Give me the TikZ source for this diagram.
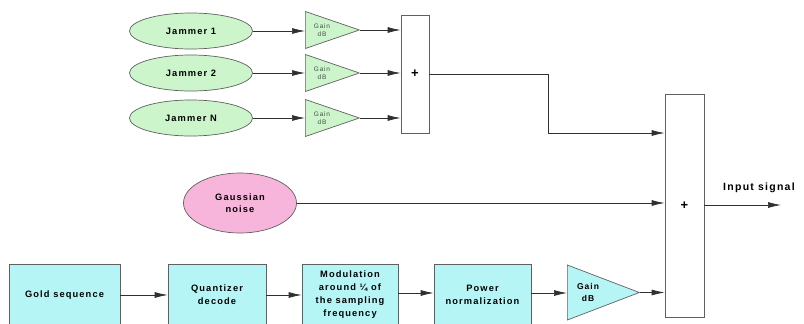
\documentclass[tikz,border=0pt]{standalone}
\usepackage{fontspec}
\setmainfont{Liberation Sans}[LetterSpace=12]
\usetikzlibrary{shapes.geometric,arrows.meta}
\definecolor{jamfill}{HTML}{CCF5CC}
\definecolor{noisefill}{HTML}{F7B5DC}
\definecolor{blockfill}{HTML}{B5F5F5}
\definecolor{edgegray}{HTML}{606060}
\definecolor{wirecol}{HTML}{303030}
\begin{document}
\begin{tikzpicture}[x=1pt,y=-1pt,
  jam/.style={ellipse, draw=edgegray, fill=jamfill, line width=0.7pt,
    minimum width=123pt, minimum height=36pt, inner sep=0pt,
    font=\bfseries\fontsize{9.3}{10}\selectfont},
  noise/.style={ellipse, draw=edgegray, fill=noisefill, line width=0.7pt,
    minimum width=113pt, minimum height=60pt, inner sep=0pt, align=center,
    font=\bfseries\fontsize{9.3}{12.5}\selectfont},
  amp/.style={isosceles triangle, isosceles triangle stretches,
    shape border rotate=0, draw=edgegray, line width=0.7pt, inner sep=0pt,
    anchor=west},
  % for this shape, width is the base and height the apex distance
  smallamp/.style={amp, fill=jamfill, minimum height=54pt, minimum width=37pt},
  bigamp/.style={amp, fill=blockfill, minimum height=72pt, minimum width=55pt},
  amplabel/.style={align=center, inner sep=0pt},
  block/.style={rectangle, draw=edgegray, fill=blockfill, line width=0.7pt,
    inner sep=0pt, align=center, minimum height=62pt,
    font=\bfseries\fontsize{9.3}{13}\selectfont},
  sumbox/.style={rectangle, draw=edgegray, fill=white, line width=0.7pt,
    inner sep=0pt, font=\bfseries\fontsize{13}{13}\selectfont},
  wire/.style={draw=wirecol, line width=0.7pt, -{Latex[length=13pt,width=6pt]}}
]
\useasboundingbox (0,0) rectangle (804,324);

% jammer sources
\node[jam] (j1) at (191,31) {Jammer 1};
\node[jam] (j2) at (191,73) {Jammer 2};
\node[jam] (jn) at (191,118) {Jammer N};

% jammer gain stages
\node[smallamp] (a1) at (305,30) {};
\node[smallamp] (a2) at (305,73) {};
\node[smallamp] (an) at (305,118) {};
\foreach \n in {a1,a2,an}
  \node[amplabel, text=black!70, font=\fontsize{6.5}{7.5}\selectfont]
    (\n t) at ([xshift=17pt]\n.west) {Gain\\dB};

% jammer summation
\node[sumbox, minimum width=28pt, minimum height=118pt] (s1) at (415,74) {+};

% gaussian noise source
\node[noise] (gn) at (240,203) {Gaussian\\noise};

% signal chain
\node[block, minimum width=111pt] (gold) at (64.5,295) {Gold sequence};
\node[block, minimum width=98pt] (quant) at (217,295) {Quantizer\\decode};
\node[block, minimum width=96pt] (mod) at (350,295) {Modulation\\around \textonequarter\ of\\the sampling\\frequency};
\node[block, minimum width=97pt] (pow) at (482.5,295) {Power\\normalization};
\node[bigamp] (a4) at (567,292.5) {};
\node[amplabel, font=\bfseries\fontsize{8.5}{12}\selectfont] (a4t)
  at ([xshift=21pt]a4.west) {Gain\\dB};

% final summation
\node[sumbox, minimum width=39pt, minimum height=223pt] (s2) at (684.5,205.5) {+};

% output
\coordinate (out) at (781,205);
\node[font=\bfseries\fontsize{10.5}{12}\selectfont, inner sep=0pt] (outlbl) at (759,188) {Input signal};

% jammer branch wiring
\draw[wire] (j1.east) -- (j1.east -| a1.west);
\draw[wire] (j2.east) -- (j2.east -| a2.west);
\draw[wire] (jn.east) -- (jn.east -| an.west);
\draw[wire] (a1.apex) -- (a1.apex -| s1.west);
\draw[wire] (a2.apex) -- (a2.apex -| s1.west);
\draw[wire] (an.apex) -- (an.apex -| s1.west);
\coordinate (bend) at (548,133);
\draw[wire] (s1.east) -| (bend) -- (bend -| s2.west);

% noise wiring
\draw[wire] (gn.east) -- (gn.east -| s2.west);

% signal chain wiring
\draw[wire] (gold.east |- 0,295) -- (quant.west |- 0,295);
\draw[wire] (quant.east |- 0,295) -- (mod.west |- 0,295);
\draw[wire] (mod.east |- 0,293) -- (pow.west |- 0,293);
\draw[wire] (pow.east |- 0,293) -- (a4.west |- 0,293);
\draw[wire] (a4.apex) -- (a4.apex -| s2.west);

% output wiring
\draw[wire] (s2.east |- out) -- (out);
\end{tikzpicture}
\end{document}
